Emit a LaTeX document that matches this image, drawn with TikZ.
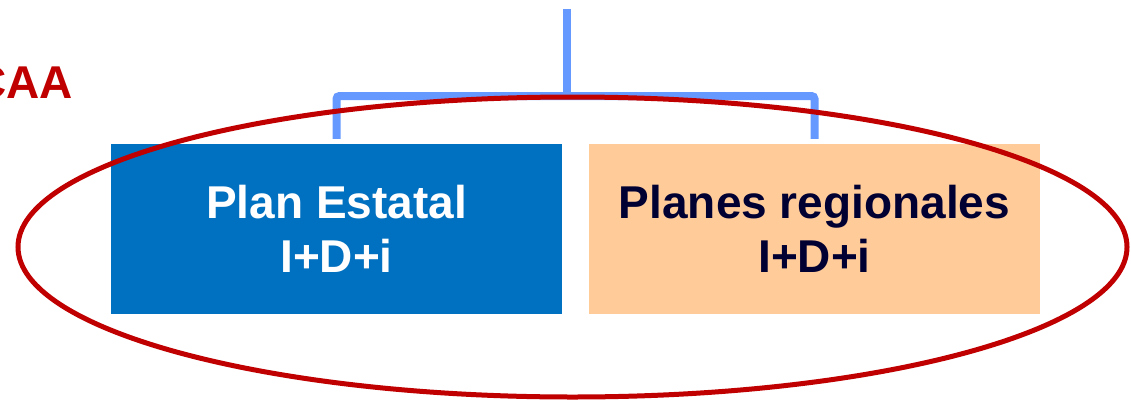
\documentclass[tikz,border=0pt]{standalone}
\usepackage{fontspec}
\setmainfont{Liberation Sans}
\usetikzlibrary{calc,shapes.geometric}
\definecolor{boxblue}{HTML}{0070C0}
\definecolor{peach}{HTML}{FFCC99}
\definecolor{linkblue}{HTML}{6699FF}
\definecolor{darkred}{HTML}{C00000}
\definecolor{navy}{HTML}{000033}
\tikzset{
  planbox/.style={minimum width=451pt, minimum height=170pt, inner sep=0pt, align=center,
    font=\bfseries\fontsize{46}{54}\selectfont},
  bracket/.style={draw=linkblue, line width=8pt, rounded corners=3pt},
  oval/.style={draw=darkred, line width=5pt},
}
\begin{document}
\begin{tikzpicture}[x=1pt,y=-1pt]
\useasboundingbox (0,0) rectangle (1131,399);
\node[anchor=base east, inner sep=0pt, text=darkred, font=\bfseries\fontsize{46}{54}\selectfont] (caa) at (73,98) {CAA};
\node[planbox, fill=boxblue, text=white] (a) at (336.5,229) {Plan Estatal\\I+D+i};
\node[planbox, fill=peach, text=navy] (b) at (814.5,229) {Planes regionales\\I+D+i};
\coordinate (top) at (566.5,9);
\coordinate (j) at (566.5,96);
\draw[bracket] (top) -- (j);
\draw[bracket] ([yshift=5pt]a.north) |- (j) -| ([yshift=5pt]b.north);
\node[oval, ellipse, minimum width=1109pt, minimum height=300pt, inner sep=0pt] (ring) at (572.5,247) {};
\end{tikzpicture}
\end{document}
